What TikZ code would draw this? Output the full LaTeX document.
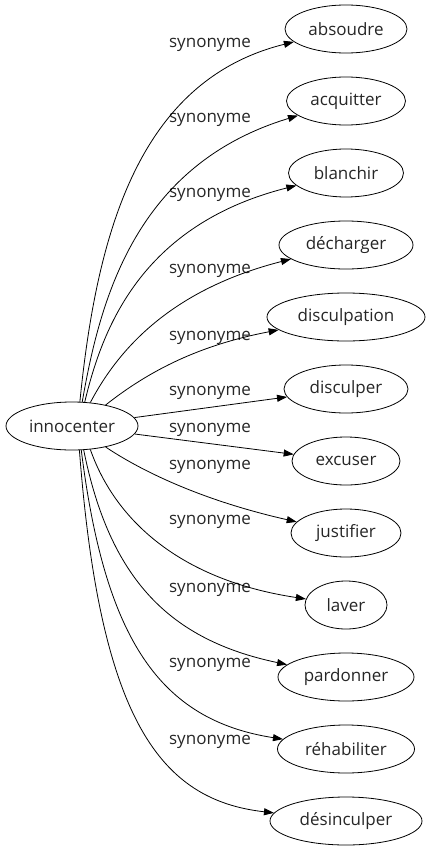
\documentclass[tikz,border=0pt]{standalone}
\usepackage{fontspec}
\setmainfont{Open Sans}
\usetikzlibrary{shapes.geometric,arrows.meta}
\begin{document}
\begin{tikzpicture}[x=1bp, y=1bp, line width=0.8bp, >={Triangle[length=10bp,width=7bp]},
  word/.style={shape=ellipse,draw,minimum height=48bp,inner sep=0pt,font=\fontsize{17bp}{20bp}\selectfont,text=black!85},
  syn/.style={inner sep=0pt,font=\fontsize{17bp}{20bp}\selectfont,text=black!85}]
  \useasboundingbox (0,0) rectangle (429,-851);
  \node [word,minimum width=132bp] (innocenter) at (72,-426) {innocenter};
  \node [word,minimum width=122bp] (absoudre) at (346,-29) {absoudre};
  \node [word,minimum width=119bp] (acquitter) at (346,-101) {acquitter};
  \node [word,minimum width=115bp] (blanchir) at (346,-173) {blanchir};
  \node [word,minimum width=134bp] (decharger) at (346,-245) {décharger};
  \node [word,minimum width=158bp] (disculpation) at (346,-317) {disculpation};
  \node [word,minimum width=124bp] (disculper) at (346,-389) {disculper};
  \node [word,minimum width=108bp] (excuser) at (346,-461) {excuser};
  \node [word,minimum width=110bp] (justifier) at (346,-533) {justifier};
  \node [word,minimum width=82bp] (laver) at (346,-605) {laver};
  \node [word,minimum width=136bp] (pardonner) at (346,-677) {pardonner};
  \node [word,minimum width=137bp] (rehabiliter) at (346,-749) {réhabiliter};
  \node [word,minimum width=152bp] (desinculper) at (346,-821) {désinculper};
  % labels
  \node [syn] (s1) at (210,-45) {synonyme};
  \node [syn] (s2) at (210,-120) {synonyme};
  \node [syn] (s3) at (210,-195) {synonyme};
  \node [syn] (s4) at (210,-271) {synonyme};
  \node [syn] (s5) at (210,-338) {synonyme};
  \node [syn] (s6) at (210,-393) {synonyme};
  \node [syn] (s7) at (210,-430) {synonyme};
  \node [syn] (s8) at (210,-467) {synonyme};
  \node [syn] (s9) at (210,-522) {synonyme};
  \node [syn] (s10) at (210,-590) {synonyme};
  \node [syn] (s11) at (210,-665) {synonyme};
  \node [syn] (s12) at (210,-742) {synonyme};
  % edges
  \draw[->] (innocenter.72) .. controls (97,-230) and (140,-80) .. (absoudre);
  \draw[->] (innocenter.67) .. controls (100,-300) and (135,-165) .. (acquitter);
  \draw[->] (innocenter.62) .. controls (102,-330) and (140,-225) .. (blanchir);
  \draw[->] (innocenter.52) .. controls (118,-350) and (170,-290) .. (decharger);
  \draw[->] (innocenter.32) .. controls (150,-370) and (200,-345) .. (disculpation);
  \path[->] (innocenter) edge (disculper) (innocenter) edge (excuser);
  \draw[->] (innocenter.-32) .. controls (140,-470) and (200,-500) .. (justifier);
  \draw[->] (innocenter.-52) .. controls (115,-520) and (180,-580) .. (laver);
  \draw[->] (innocenter.-64) .. controls (110,-580) and (170,-640) .. (pardonner);
  \draw[->] (innocenter.-69) .. controls (105,-640) and (160,-720) .. (rehabiliter);
  \draw[->] (innocenter.-73) .. controls (100,-720) and (160,-800) .. (desinculper);
\end{tikzpicture}
\end{document}
